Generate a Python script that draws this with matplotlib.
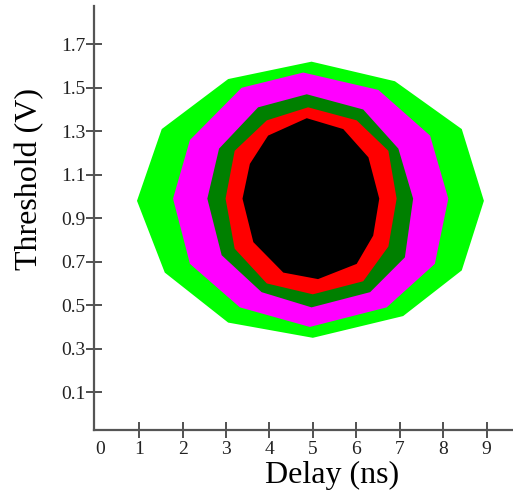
import matplotlib
matplotlib.use("Agg")
import matplotlib.pyplot as plt

# eye contours, outer to inner (delay ns, threshold V)
green_x = [0.95, 1.52, 3.05, 4.97, 6.89, 8.43, 8.94, 8.43, 7.08, 5.00, 3.05, 1.59]
green_y = [0.98, 1.31, 1.54, 1.62, 1.53, 1.31, 0.98, 0.66, 0.45, 0.35, 0.42, 0.65]
magenta_x = [1.78, 2.17, 3.36, 4.78, 6.51, 7.70, 8.12, 7.81, 6.70, 4.93, 3.32, 2.17]
magenta_y = [0.99, 1.26, 1.50, 1.57, 1.49, 1.28, 0.99, 0.69, 0.49, 0.40, 0.49, 0.69]
dkgreen_x = [2.57, 2.84, 3.74, 4.86, 6.16, 6.97, 7.31, 7.12, 6.32, 4.97, 3.82, 2.90]
dkgreen_y = [0.99, 1.22, 1.41, 1.47, 1.40, 1.22, 0.99, 0.72, 0.56, 0.49, 0.56, 0.73]
red_x = [2.99, 3.20, 3.94, 4.89, 6.01, 6.74, 6.93, 6.74, 6.16, 5.00, 3.94, 3.20]
red_y = [0.99, 1.21, 1.35, 1.41, 1.35, 1.21, 0.99, 0.77, 0.61, 0.55, 0.60, 0.76]
black_x = [3.38, 3.55, 3.97, 4.86, 5.70, 6.28, 6.53, 6.39, 6.01, 5.12, 4.32, 3.63]
black_y = [0.99, 1.15, 1.28, 1.36, 1.31, 1.18, 0.99, 0.82, 0.69, 0.62, 0.65, 0.79]

xticks = [1, 2, 3, 4, 5, 6, 7, 8, 9]
yticks = [0.1, 0.3, 0.5, 0.7, 0.9, 1.1, 1.3, 1.5, 1.7]

plt.rcParams['font.family'] = ['Liberation Serif', 'DejaVu Serif']

fig = plt.figure(figsize=(5.13, 4.95), dpi=100)
ax = fig.add_axes([94 / 513, 1 - 430 / 495, 1 - 94 / 513, 424 / 495])

layers = [
    (green_x, green_y, '#00ff00'),
    (magenta_x, magenta_y, '#ff00ff'),
    (dkgreen_x, dkgreen_y, '#008000'),
    (red_x, red_y, '#ff0000'),
    (black_x, black_y, '#000000'),
]
for xs, ys, c in layers:
    ax.fill(xs, ys, color=c, linewidth=0)

ax.set_xlim(-0.04, 9.61)
ax.set_ylim(-0.074, 1.876)

ax.spines['top'].set_visible(False)
ax.spines['right'].set_visible(False)
for s in ['left', 'bottom']:
    ax.spines[s].set_color('#555555')
    ax.spines[s].set_linewidth(1.6)

ax.set_xticks(xticks)
ax.set_yticks(yticks)
ax.set_yticklabels([f"{v:.1f}" for v in yticks])
ax.tick_params(direction='inout', length=12, width=1.2, color='#333333',
               labelsize=14, labelcolor='#222222')
ax.tick_params(axis='y', pad=0)
ax.tick_params(axis='x', pad=2)
# lone "0" label at the origin, no tick there
ax.text(0.1, -0.165, "0", ha='center', va='center', fontsize=14,
        color='#222222')

ax.set_xlabel("Delay (ns)", fontsize=23)
ax.xaxis.set_label_coords(0.568, -0.072)
ax.set_ylabel("Threshold (V)", fontsize=23)
ax.yaxis.set_label_coords(-0.118, 0.592)

fig.savefig("out.png", dpi=100)
